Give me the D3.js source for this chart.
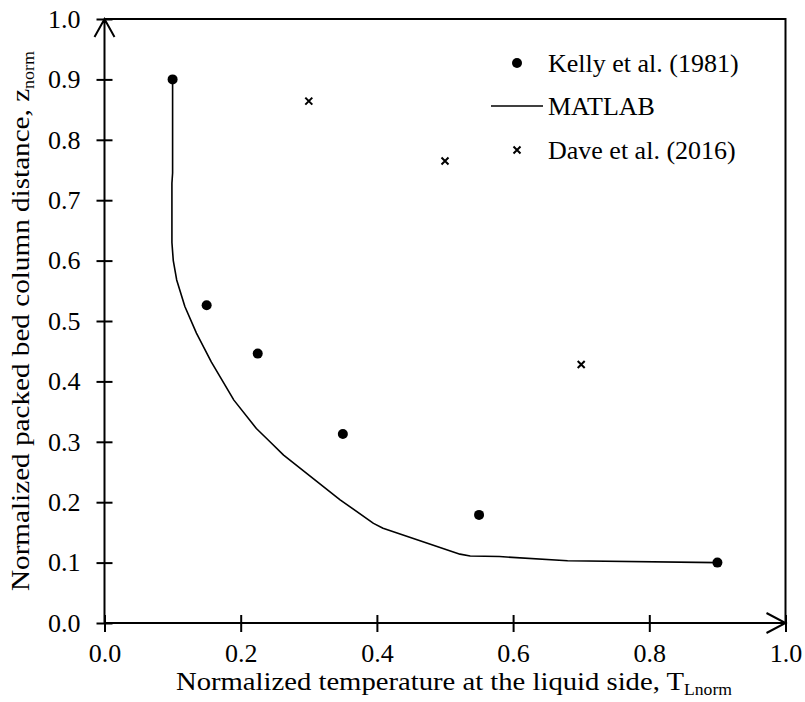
<!DOCTYPE html>
<meta charset="utf-8">
<style>
body { margin: 0; background: #fff; }
text { font-family: "Liberation Serif", serif; fill: #000; }
.axis path { display: none; }
.axis line { stroke: #000; stroke-width: 2px; }
.axis text { font-size: 26px; }
.frame { fill: none; stroke: #000; stroke-width: 2px; }
.line { fill: none; stroke: #000; stroke-width: 1.6px; stroke-linejoin: round; }
</style>
<svg width="805" height="702"></svg>
<script src="https://cdn.jsdelivr.net/npm/d3@7"></script>
<script>

// Kelly et al. (1981) measured points
var kellyT = [0.1, 0.15, 0.225, 0.35, 0.55, 0.9];
var kellyZ = [0.9, 0.526, 0.446, 0.313, 0.179, 0.1];

// MATLAB model curve
var matlabT = [0.1, 0.1, 0.099, 0.099, 0.101, 0.106, 0.118, 0.135, 0.157, 0.19, 0.223, 0.243, 0.263, 0.346, 0.395, 0.409, 0.522, 0.537, 0.58, 0.68, 0.9];
var matlabZ = [0.9, 0.745, 0.728, 0.63, 0.60, 0.568, 0.524, 0.480, 0.432, 0.369, 0.322, 0.300, 0.278, 0.204, 0.165, 0.157, 0.114, 0.111, 0.110, 0.103, 0.1];

// Dave et al. (2016)
var daveT = [0.3, 0.5, 0.7];
var daveZ = [0.864, 0.765, 0.428];

var xTicks = [0, 0.2, 0.4, 0.6, 0.8, 1.0];
var yTicks = [0, 0.1, 0.2, 0.3, 0.4, 0.5, 0.6, 0.7, 0.8, 0.9, 1.0];
var legendLabels = ["Kelly et al. (1981)", "MATLAB", "Dave et al. (2016)"];

var svg = d3.select("svg"),
    margin = {top: 19, right: 19.5, bottom: 79, left: 104.5},
    width = svg.attr("width") - margin.left - margin.right,
    height = svg.attr("height") - margin.top - margin.bottom,
    g = svg.append("g").attr("transform", "translate(" + margin.left + "," + margin.top + ")");

var x = d3.scaleLinear().domain([0, 1]).range([0, width]),
    y = d3.scaleLinear().domain([0, 1]).range([height, 0]);

// top and right border
g.append("path")
    .attr("class", "frame")
    .attr("d", "M0,0H" + width + "V" + height);

var xAxis = g.append("g")
    .attr("class", "axis axis--x")
    .attr("transform", "translate(0," + height + ")")
    .call(d3.axisBottom(x).tickValues(xTicks).tickSize(8).tickPadding(13).tickFormat(d3.format(".1f")));
xAxis.selectAll(".tick line").attr("y1", -8).attr("y2", 9);

var yAxis = g.append("g")
    .attr("class", "axis axis--y")
    .call(d3.axisLeft(y).tickValues(yTicks).tickSize(8).tickPadding(16).tickFormat(d3.format(".1f")));
yAxis.selectAll(".tick line").attr("x1", 8).attr("x2", -8);

// axis lines with open arrow heads
g.append("path")
    .attr("class", "frame")
    .attr("d", "M0," + height + "V0M-10,18L0,0L10,18");
g.append("path")
    .attr("class", "frame")
    .attr("d", "M0," + height + "H" + width + "M" + (width - 19) + "," + (height - 10) + "L" + width + "," + height + "L" + (width - 19) + "," + (height + 10));

var line = d3.line()
    .x(function(d) { return x(d[0]); })
    .y(function(d) { return y(d[1]); });

g.append("path")
    .datum(d3.zip(matlabT, matlabZ))
    .attr("class", "line")
    .attr("d", line);

g.selectAll(".kelly")
    .data(d3.zip(kellyT, kellyZ))
  .enter().append("circle")
    .attr("class", "kelly")
    .attr("cx", function(d) { return x(d[0]); })
    .attr("cy", function(d) { return y(d[1]); })
    .attr("r", 5);

function cross(sel, s) {
  sel.append("path")
      .attr("d", "M" + (-s) + "," + (-s) + "L" + s + "," + s + "M" + (-s) + "," + s + "L" + s + "," + (-s))
      .attr("stroke", "#000")
      .attr("stroke-width", 2);
}

g.selectAll(".dave")
    .data(d3.zip(daveT, daveZ))
  .enter().append("g")
    .attr("class", "dave")
    .attr("transform", function(d) { return "translate(" + x(d[0]) + "," + y(d[1]) + ")"; })
    .call(cross, 3.5);

// legend
var legend = svg.append("g").attr("transform", "translate(517,0)");
var rowY = [63, 106, 150];
legend.append("circle").attr("cx", 0).attr("cy", rowY[0]).attr("r", 5);
legend.append("line").attr("x1", -26).attr("x2", 26).attr("y1", rowY[1]).attr("y2", rowY[1])
    .attr("stroke", "#000").attr("stroke-width", 1.6);
legend.append("g").attr("transform", "translate(0," + rowY[2] + ")").call(cross, 3.5);
legend.selectAll(".lab")
    .data(legendLabels)
  .enter().append("text")
    .attr("class", "lab")
    .attr("x", 31)
    .attr("y", function(d, i) { return rowY[i]; })
    .attr("dy", "0.35em")
    .style("font-size", "26px")
    .text(function(d) { return d; });

// axis titles (stretched a little to the wider face of the original)
var xt = svg.append("text")
    .attr("x", 454)
    .attr("y", 690)
    .attr("text-anchor", "middle")
    .attr("textLength", 556)
    .attr("lengthAdjust", "spacingAndGlyphs")
    .style("font-size", "26px")
    .text("Normalized temperature at the liquid side, T");
xt.append("tspan").attr("dy", 5).style("font-size", "16px").text("Lnorm");

var yt = svg.append("text")
    .attr("transform", "translate(29,321) rotate(-90)")
    .attr("text-anchor", "middle")
    .attr("textLength", 540)
    .attr("lengthAdjust", "spacingAndGlyphs")
    .style("font-size", "26px")
    .text("Normalized packed bed column distance, z");
yt.append("tspan").attr("dy", 5).style("font-size", "16px").text("norm");

</script>
